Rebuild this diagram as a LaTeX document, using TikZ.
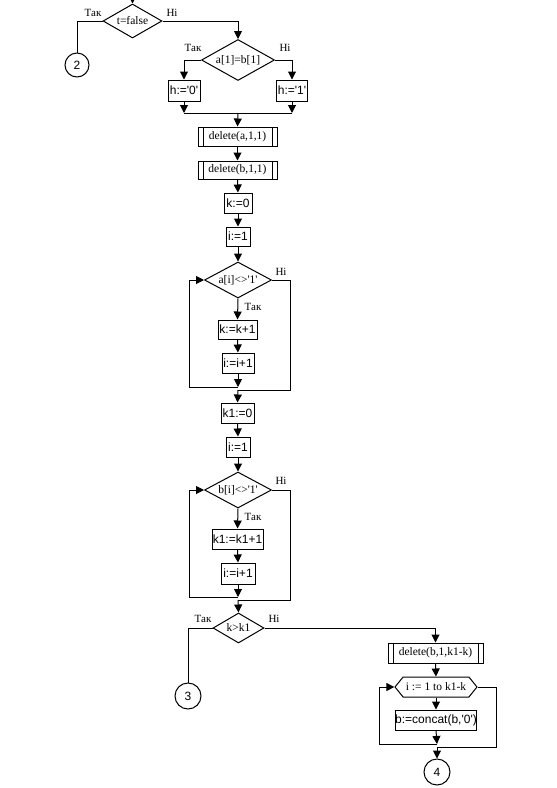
\documentclass[tikz,border=0pt]{standalone}
\usepackage{fontspec}
\setmainfont{Liberation Serif}
\setsansfont{Liberation Sans}
\usetikzlibrary{shapes.geometric,shapes.symbols,arrows.meta}
\tikzset{
  ln/.style={line width=1pt},
  arr/.style={ln,-{Triangle[length=8pt,width=8pt]}},
  proc/.style={draw, ln, rectangle, inner sep=0pt, font=\sffamily\fontsize{12}{14}\selectfont},
  dec/.style={draw, ln, diamond, aspect=2, inner sep=0pt, font=\rmfamily\fontsize{11.5}{13}\selectfont},
  subr/.style={proc, font=\rmfamily\fontsize{11.5}{13}\selectfont,
    path picture={\draw[ln] ([xshift=5pt]path picture bounding box.north west) -- ([xshift=5pt]path picture bounding box.south west)
      ([xshift=-5pt]path picture bounding box.north east) -- ([xshift=-5pt]path picture bounding box.south east);}},
  conn/.style={draw, ln, circle, inner sep=0pt, font=\sffamily\fontsize{12}{14}\selectfont},
  loophex/.style={draw, ln, signal, signal to=west and east, signal pointer angle=102, inner sep=0pt, font=\rmfamily\fontsize{11.5}{13}\selectfont},
  lbl/.style={inner sep=0pt, font=\rmfamily\fontsize{11}{12}\selectfont}
}
\begin{document}
\begin{tikzpicture}[x=1pt,y=-1pt]
\useasboundingbox (0,0) rectangle (557,788);
% top
\coordinate (top) at (132.5,0);
\node[dec, minimum width=59pt, minimum height=34pt] (d1) at (132.5,21) {t=false};
\node[conn, minimum size=24pt] (c2) at (77,65) {2};
\node[dec, minimum width=73pt, minimum height=41pt] (d2) at (238,60) {a[1]=b[1]};
\node[proc, minimum width=32pt, minimum height=21pt] (b0) at (184,90.5) {h:=\textquotesingle0\textquotesingle};
\node[proc, minimum width=31pt, minimum height=21pt] (b1) at (292,90.5) {h:=\textquotesingle1\textquotesingle};
\coordinate (m0) at (184,113);
\coordinate (m1) at (292,113);
\coordinate (mm) at (238,113);
\node[subr, minimum width=79pt, minimum height=19pt] (p1) at (237.5,136.5) {delete(a,1,1)};
\node[subr, minimum width=79pt, minimum height=18pt] (p2) at (237.5,170) {delete(b,1,1)};
\node[proc, minimum width=28pt, minimum height=20pt] (k0) at (238,203) {k:=0};
\node[proc, minimum width=24pt, minimum height=19pt] (i1) at (238,236.5) {i:=1};
\node[dec, minimum width=67pt, minimum height=36pt] (d3) at (238,280) {a[i]<>\textquotesingle1\textquotesingle};
\node[proc, minimum width=39pt, minimum height=19pt] (kk) at (237.5,329.5) {k:=k+1};
\node[proc, minimum width=32pt, minimum height=20pt] (ii) at (238,363) {i:=i+1};
\coordinate (j1) at (238,387);
\coordinate (j1l) at (189,387);
\coordinate (j1u) at (189,280);
\coordinate (r1a) at (290,280);
\coordinate (r1b) at (290,390);
\coordinate (r1c) at (238,390);
\node[proc, minimum width=33pt, minimum height=20pt] (k10) at (237.5,413) {k1:=0};
\node[proc, minimum width=24pt, minimum height=20pt] (i2) at (238,447) {i:=1};
\node[dec, minimum width=67pt, minimum height=36pt] (d4) at (238,490) {b[i]<>\textquotesingle1\textquotesingle};
\node[proc, minimum width=51pt, minimum height=20pt] (kk1) at (237.5,539) {k1:=k1+1};
\node[proc, minimum width=34pt, minimum height=21pt] (ii2) at (238,573.5) {i:=i+1};
\coordinate (j2) at (238,597);
\coordinate (j2l) at (189,597);
\coordinate (j2u) at (189,490);
\coordinate (r2a) at (290,490);
\coordinate (r2b) at (290,600);
\coordinate (r2c) at (238,600);
\node[dec, minimum width=51pt, minimum height=30pt] (d5) at (238.5,628) {k>k1};
\node[conn, minimum size=26pt] (c3) at (188,696) {3};
\node[subr, minimum width=95pt, minimum height=20pt] (p3) at (435.5,653) {delete(b,1,k1-k)};
\node[loophex, minimum width=82pt, minimum height=20pt] (hx) at (436,687) {i := 1 to k1-k};
\node[proc, minimum width=78pt, minimum height=20pt] (bc) at (436,720) {b:=concat(b,\textquotesingle0\textquotesingle)};
\coordinate (j3) at (437,744);
\coordinate (j3l) at (379,744);
\coordinate (j3u) at (379,687);
\coordinate (r3a) at (496,687);
\coordinate (r3b) at (496,747);
\coordinate (r3c) at (437,747);
\node[conn, minimum size=26pt] (c4) at (437,772) {4};
% connectors
\draw[arr] (top) -- (d1.north);
\draw[ln] (d1.west) -| (c2.north);
\draw[arr] (d1.east) -| (d2.north);
\draw[arr] (d2.west) -| (b0.north);
\draw[arr] (d2.east) -| (b1.north);
\draw[arr] (b0.south) -- (m0);
\draw[arr] (b1.south) -- (m1);
\draw[ln] (m0) -- (m1);
\draw[arr] (mm) -- (p1.north);
\draw[arr] (p1.south) -- (p2.north);
\draw[arr] (p2.south) -- (k0.north);
\draw[arr] (k0.south) -- (i1.north);
\draw[arr] (i1.south) -- (d3.north);
\draw[arr] (d3.south) -- (kk.north);
\draw[arr] (kk.south) -- (ii.north);
\draw[arr] (ii.south) -- (j1);
\draw[arr] (j1) -- (j1l) -- (j1u) -- (d3.west);
\draw[ln] (d3.east) -- (r1a) -- (r1b) -- (r1c);
\draw[arr] (r1c) -- (k10.north);
\draw[arr] (k10.south) -- (i2.north);
\draw[arr] (i2.south) -- (d4.north);
\draw[arr] (d4.south) -- (kk1.north);
\draw[arr] (kk1.south) -- (ii2.north);
\draw[arr] (ii2.south) -- (j2);
\draw[arr] (j2) -- (j2l) -- (j2u) -- (d4.west);
\draw[ln] (d4.east) -- (r2a) -- (r2b) -- (r2c);
\draw[arr] (r2c) -- (d5.north);
\draw[ln] (d5.west) -| (c3.north);
\draw[arr] (d5.east) -| (p3.north);
\draw[arr] (p3.south) -- (hx.north);
\draw[arr] (hx.south) -- (bc.north);
\draw[arr] (bc.south) -- (j3);
\draw[arr] (j3) -- (j3l) -- (j3u) -- (hx.west);
\draw[ln] (hx.east) -- (r3a) -- (r3b) -- (r3c);
\draw[arr] (r3c) -- (c4.north);
% labels
\node[lbl] (l1) at (93,13) {Так};
\node[lbl] (l2) at (172,13) {Ні};
\node[lbl] (l3) at (193,48) {Так};
\node[lbl] (l4) at (285,48) {Ні};
\node[lbl] (l5) at (253,307) {Так};
\node[lbl] (l6) at (281,272) {Ні};
\node[lbl] (l7) at (253,517) {Так};
\node[lbl] (l8) at (281,481) {Ні};
\node[lbl] (l9) at (203,619) {Так};
\node[lbl] (l10) at (274,619) {Ні};
\end{tikzpicture}
\end{document}
